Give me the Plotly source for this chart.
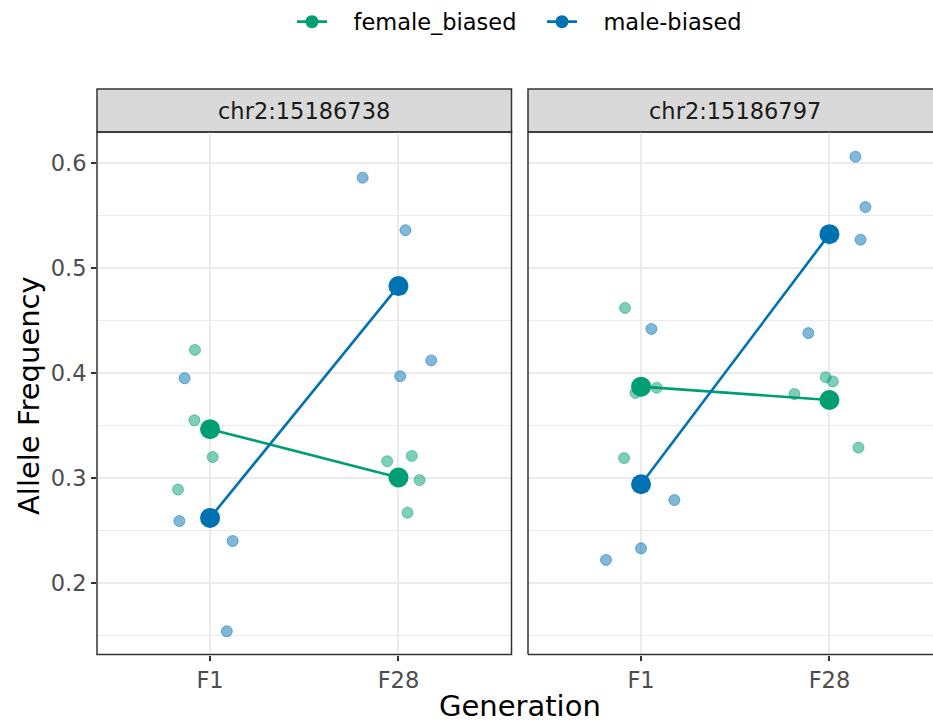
import numpy as np
import plotly.graph_objects as go

# ---------------- data ----------------
generations = ["F1", "F28"]
loci = ["chr2:15186738", "chr2:15186797"]
groups = ["female_biased", "male-biased"]

# replicate allele frequencies (4 replicates) per locus / group / generation
l1_female_F1 = [0.422, 0.355, 0.320, 0.289]
l1_female_F28 = [0.316, 0.321, 0.298, 0.267]
l1_male_F1 = [0.395, 0.259, 0.240, 0.154]
l1_male_F28 = [0.586, 0.536, 0.397, 0.412]

l2_female_F1 = [0.462, 0.381, 0.386, 0.319]
l2_female_F28 = [0.396, 0.392, 0.380, 0.329]
l2_male_F1 = [0.442, 0.279, 0.233, 0.222]
l2_male_F28 = [0.606, 0.558, 0.527, 0.438]

# horizontal jitter (in category units)
j1_female_F1 = [-0.08, -0.083, 0.014, -0.17]
j1_female_F28 = [-0.06, 0.071, 0.112, 0.048]
j1_male_F1 = [-0.135, -0.163, 0.12, 0.089]
j1_male_F28 = [-0.19, 0.037, 0.009, 0.174]

j2_female_F1 = [-0.085, -0.03, 0.083, -0.09]
j2_female_F28 = [-0.02, 0.018, -0.186, 0.154]
j2_male_F1 = [0.055, 0.177, 0.0, -0.186]
j2_male_F28 = [0.138, 0.191, 0.165, -0.112]

y_ticks = [0.2, 0.3, 0.4, 0.5, 0.6]
y_minor = [0.15, 0.25, 0.35, 0.45, 0.55]

# ---------------- style ----------------
colors = {"female_biased": "#009E73", "male-biased": "#0072B2"}
alpha_colors = {"female_biased": "rgba(0,158,115,0.5)", "male-biased": "rgba(0,114,178,0.5)"}
FONT = "DejaVu Sans"
SMALL = 22.5
BIG = 29
W, H = 933, 722

data = {
    (0, "female_biased"): ((l1_female_F1, j1_female_F1), (l1_female_F28, j1_female_F28)),
    (0, "male-biased"): ((l1_male_F1, j1_male_F1), (l1_male_F28, j1_male_F28)),
    (1, "female_biased"): ((l2_female_F1, j2_female_F1), (l2_female_F28, j2_female_F28)),
    (1, "male-biased"): ((l2_male_F1, j2_male_F1), (l2_male_F28, j2_male_F28)),
}

fig = go.Figure()

# jittered replicate points
for p in range(2):
    xa = "x" if p == 0 else "x2"
    ya = "y" if p == 0 else "y2"
    for g in groups:
        xs, ys = [], []
        for gi, (vals, jit) in enumerate(data[(p, g)]):
            xs += [gi + 1 + j for j in jit]
            ys += list(vals)
        fig.add_trace(go.Scatter(
            x=xs, y=ys, mode="markers", xaxis=xa, yaxis=ya, showlegend=False,
            marker=dict(size=11, color=alpha_colors[g],
                        line=dict(width=1, color=alpha_colors[g])),
            hoverinfo="skip"))

# mean lines + points
for p in range(2):
    xa = "x" if p == 0 else "x2"
    ya = "y" if p == 0 else "y2"
    for g in groups:
        means = [float(np.mean(vals)) for vals, _ in data[(p, g)]]
        fig.add_trace(go.Scatter(
            x=[1, 2], y=means, mode="lines+markers", xaxis=xa, yaxis=ya,
            showlegend=False,
            line=dict(color=colors[g], width=2.6),
            marker=dict(size=20, color=colors[g])))

# legend entries
for g in groups:
    fig.add_trace(go.Scatter(
        x=[None], y=[None], mode="lines+markers", name="\u00a0\u00a0\u00a0" + g,
        line=dict(color=colors[g], width=2.6),
        marker=dict(size=13, color=colors[g])))

# ---------------- layout ----------------
px_l1, px_r1 = 97, 511.5
px_l2, px_r2 = 528, 933
py_top, py_bot = 132, 654.5
strip_top = 89
unit = (px_r1 - px_l1) / 2.2
x2_max = 0.4 + (px_r2 - px_l2) / unit

def fx(px):
    return px / W

def fy(py):
    return 1 - py / H

grid = "#EBEBEB"
dark = "#333333"

common_y = dict(range=[0.2 - (py_bot - 583) / 1050, 0.6 + (163 - py_top) / 1050],
                tickvals=y_ticks, showgrid=True, gridcolor=grid, gridwidth=1.5,
                minor=dict(tickvals=y_minor, showgrid=True, gridcolor=grid, gridwidth=0.8),
                zeroline=False, showline=False,
                domain=[fy(py_bot), fy(py_top)])
common_x = dict(tickvals=[1, 2], ticktext=generations, showgrid=True,
                gridcolor=grid, gridwidth=1.5, zeroline=False, showline=False,
                ticks="outside", ticklen=5, tickwidth=1.5, tickcolor=dark,
                tickfont=dict(family=FONT, size=SMALL, color="#4D4D4D"))

fig.update_layout(
    width=W, height=H, margin=dict(l=0, r=0, t=0, b=0),
    paper_bgcolor="white", plot_bgcolor="white",
    font=dict(family=FONT, color="#000000"),
    xaxis=dict(common_x, domain=[fx(px_l1), fx(px_r1)], range=[0.4, 2.6], anchor="y"),
    xaxis2=dict(common_x, domain=[fx(px_l2), fx(px_r2)], range=[0.4, x2_max], anchor="y2"),
    yaxis=dict(common_y, anchor="x", ticks="outside", ticklen=5, tickwidth=1.5,
               tickcolor=dark, tickfont=dict(family=FONT, size=SMALL, color="#4D4D4D")),
    yaxis2=dict(common_y, anchor="x2", showticklabels=False, ticks=""),
    showlegend=True,
    legend=dict(orientation="h", x=fx(292), xanchor="left", y=fy(22), yanchor="middle",
                font=dict(family=FONT, size=SMALL, color="#000000"),
                bgcolor="rgba(0,0,0,0)", itemwidth=30,
                entrywidth=205, entrywidthmode="pixels"),
)

shapes = []
# strips
for (l, r) in [(px_l1, px_r1), (px_l2, px_r2 + 20)]:
    shapes.append(dict(type="rect", xref="paper", yref="paper",
                       x0=fx(l), x1=fx(r), y0=fy(py_top), y1=fy(strip_top),
                       fillcolor="#D9D9D9", line=dict(color=dark, width=1.5), layer="below"))
# panel 1 border
shapes.append(dict(type="rect", xref="paper", yref="paper",
                   x0=fx(px_l1), x1=fx(px_r1), y0=fy(py_bot), y1=fy(py_top),
                   line=dict(color=dark, width=1.5), layer="above"))
# panel 2 border (right edge falls outside the picture)
for (x0, y0, x1, y1) in [(px_l2, py_bot, px_l2, py_top), (px_l2, py_top, px_r2, py_top),
                         (px_l2, py_bot, px_r2, py_bot)]:
    shapes.append(dict(type="line", xref="paper", yref="paper",
                       x0=fx(x0), x1=fx(x1), y0=fy(y0), y1=fy(y1),
                       line=dict(color=dark, width=1.5), layer="above"))
fig.update_layout(shapes=shapes)

annotations = [
    dict(text=loci[0], xref="paper", yref="paper", x=fx((px_l1 + px_r1) / 2),
         y=fy((py_top + strip_top) / 2), showarrow=False,
         font=dict(family=FONT, size=SMALL, color="#1A1A1A"), xanchor="center", yanchor="middle"),
    dict(text=loci[1], xref="paper", yref="paper", x=fx((px_l2 + px_l2 + (px_r1 - px_l1)) / 2),
         y=fy((py_top + strip_top) / 2), showarrow=False,
         font=dict(family=FONT, size=SMALL, color="#1A1A1A"), xanchor="center", yanchor="middle"),
    dict(text="Generation", xref="paper", yref="paper", x=fx(519.5), y=fy(706),
         showarrow=False, font=dict(family=FONT, size=BIG, color="#000000"),
         xanchor="center", yanchor="middle"),
    dict(text="Allele Frequency", xref="paper", yref="paper", x=fx(29), y=fy(396),
         showarrow=False, textangle=-90, font=dict(family=FONT, size=BIG, color="#000000"),
         xanchor="center", yanchor="middle"),
]
fig.update_layout(annotations=annotations)

fig.write_html("out.html", config={"displayModeBar": False},
               post_script="document.body.style.margin='0';document.body.style.overflow='hidden';")
